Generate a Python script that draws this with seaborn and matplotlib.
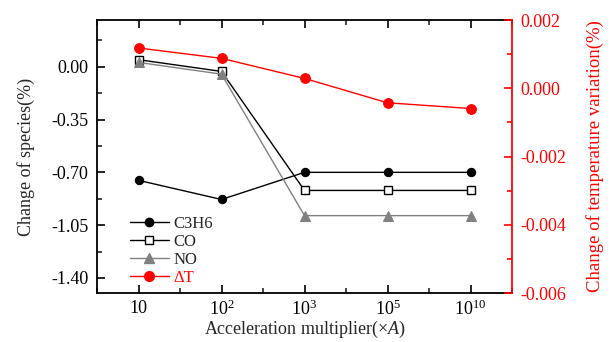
import matplotlib
matplotlib.use("Agg")
import matplotlib.pyplot as plt
import seaborn as sns
import pandas as pd
from matplotlib.ticker import MultipleLocator
from matplotlib.lines import Line2D

categories = ["10", "$10^2$", "$10^3$", "$10^5$", "$10^{10}$"]
c3h6 = [-0.753, -0.88, -0.70, -0.70, -0.70]
co = [0.047, -0.031, -0.82, -0.82, -0.82]
no = [0.029, -0.049, -0.987, -0.987, -0.987]
dT = [0.00118, 0.000876, 0.000288, -0.000426, -0.000594]

sns.set_theme(style="white")
plt.rcParams['font.family'] = ['Liberation Serif', 'DejaVu Serif']
plt.rcParams['mathtext.fontset'] = 'custom'
plt.rcParams['mathtext.rm'] = 'Liberation Serif'
plt.rcParams['mathtext.it'] = 'Liberation Serif:italic'

df = pd.DataFrame({"x": list(range(len(categories))), "C3H6": c3h6, "CO": co, "NO": no, "dT": dT})

fig = plt.figure(figsize=(6.11, 3.42), dpi=100)
ax = fig.add_axes([97/611, 1-293/342, (512-97)/611, (293-20)/342])
ax2 = ax.twinx()

sns.lineplot(data=df, x="x", y="C3H6", ax=ax, color="black", lw=1.0, marker="o",
             markersize=6, markerfacecolor="black", markeredgecolor="black", sort=False)
sns.lineplot(data=df, x="x", y="CO", ax=ax, color="black", lw=1.0, marker="s",
             markersize=5.5, markerfacecolor="white", markeredgecolor="black", markeredgewidth=1.0, sort=False)
sns.lineplot(data=df, x="x", y="NO", ax=ax, color="#808080", lw=1.0, marker="^",
             markersize=7, markerfacecolor="#808080", markeredgecolor="#808080", sort=False)
sns.lineplot(data=df, x="x", y="dT", ax=ax2, color="red", lw=1.0, marker="o",
             markersize=7, markerfacecolor="red", markeredgecolor="red", sort=False)

ax.set_xlim(-0.5, 4.5)
ax.set_ylim(-1.5, 0.31)
ax2.set_ylim(-0.006, 0.002)

ax.set_xticks(range(len(categories)))
ax.set_xticklabels(categories, fontsize=13)
ax.xaxis.set_minor_locator(MultipleLocator(0.5))
ax.set_yticks([0.0, -0.35, -0.70, -1.05, -1.40])
ax.set_yticklabels(["0.00", "-0.35", "-0.70", "-1.05", "-1.40"], fontsize=13)
ax.yaxis.set_minor_locator(MultipleLocator(0.175))
ax2.set_yticks([0.002, 0.0, -0.002, -0.004, -0.006])
ax2.set_yticklabels(["0.002", "0.000", "-0.002", "-0.004", "-0.006"], fontsize=13, color="red")
ax2.yaxis.set_minor_locator(MultipleLocator(0.001))

ax.tick_params(axis="both", which="major", direction="in", length=6, width=1.2, colors="black",
               top=True, bottom=True, left=True, right=False, pad=6)
ax.tick_params(axis="x", which="major", pad=5)
ax.tick_params(axis="both", which="minor", direction="in", length=3.5, width=1.2,
               top=True, bottom=True, left=True, right=False)
ax2.tick_params(axis="y", which="major", direction="in", length=6, width=1.2, colors="red", pad=6)
ax2.tick_params(axis="y", which="minor", direction="in", length=3.5, width=1.2, colors="red")

for s in ["left", "bottom", "top"]:
    ax.spines[s].set_color("black")
    ax.spines[s].set_linewidth(1.3)
ax.spines["right"].set_visible(False)
for s in ["left", "bottom", "top"]:
    ax2.spines[s].set_visible(False)
ax2.spines["right"].set_color("red")
ax2.spines["right"].set_linewidth(1.3)

ax.set_xlabel("Acceleration multiplier(×$\\mathit{A}$)", fontsize=13, labelpad=0)
ax.set_ylabel("Change of species(%)", fontsize=13, labelpad=12)
ax2.set_ylabel("Change of temperature variation(%)", fontsize=13.5, color="red", labelpad=14)

handles = [
    Line2D([], [], color="black", lw=1.0, marker="o", markersize=6, markerfacecolor="black"),
    Line2D([], [], color="black", lw=1.0, marker="s", markersize=5.5, markerfacecolor="white", markeredgecolor="black"),
    Line2D([], [], color="#808080", lw=1.0, marker="^", markersize=7, markerfacecolor="#808080", markeredgecolor="#808080"),
    Line2D([], [], color="red", lw=1.0, marker="o", markersize=7, markerfacecolor="red", markeredgecolor="red"),
]
leg = ax.legend(handles, ["C3H6", "CO", "NO", "ΔT"], loc="lower left", bbox_to_anchor=(0.08, 0.025),
                frameon=False, fontsize=12, handlelength=2.3, handletextpad=0.3, labelspacing=0.12,
                borderpad=0, borderaxespad=0)
leg.get_texts()[3].set_color("red")

fig.savefig("out.png", dpi=100)
